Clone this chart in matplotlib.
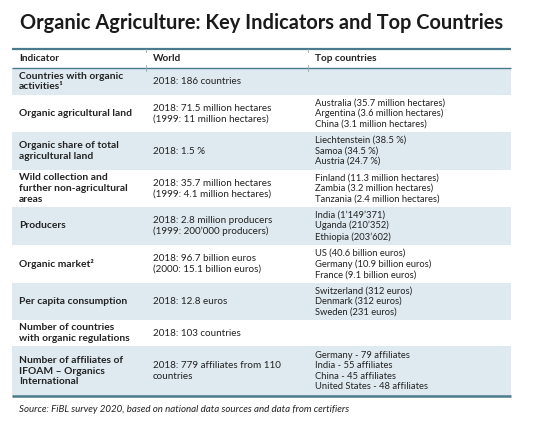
import matplotlib
matplotlib.use("Agg")
import matplotlib.pyplot as plt
from matplotlib.patches import Rectangle

title = "Organic Agriculture: Key Indicators and Top Countries"
headers = ["Indicator", "World", "Top countries"]
indicators = [
    "Countries with organic\nactivities¹",
    "Organic agricultural land",
    "Organic share of total\nagricultural land",
    "Wild collection and\nfurther non-agricultural\nareas",
    "Producers",
    "Organic market²",
    "Per capita consumption",
    "Number of countries\nwith organic regulations",
    "Number of affiliates of\nIFOAM – Organics\nInternational",
]
world = [
    "2018: 186 countries",
    "2018: 71.5 million hectares\n(1999: 11 million hectares)",
    "2018: 1.5 %",
    "2018: 35.7 million hectares\n(1999: 4.1 million hectares)",
    "2018: 2.8 million producers\n(1999: 200’000 producers)",
    "2018: 96.7 billion euros\n(2000: 15.1 billion euros)",
    "2018: 12.8 euros",
    "2018: 103 countries",
    "2018: 779 affiliates from 110\ncountries",
]
top_countries = [
    "",
    "Australia (35.7 million hectares)\nArgentina (3.6 million hectares)\nChina (3.1 million hectares)",
    "Liechtenstein (38.5 %)\nSamoa (34.5 %)\nAustria (24.7 %)",
    "Finland (11.3 million hectares)\nZambia (3.2 million hectares)\nTanzania (2.4 million hectares)",
    "India (1’149’371)\nUganda (210’352)\nEthiopia (203’602)",
    "US (40.6 billion euros)\nGermany (10.9 billion euros)\nFrance (9.1 billion euros)",
    "Switzerland (312 euros)\nDenmark (312 euros)\nSweden (231 euros)",
    "",
    "Germany - 79 affiliates\nIndia - 55 affiliates\nChina - 45 affiliates\nUnited States - 48 affiliates",
]
source = "Source: FiBL survey 2020, based on national data sources and data from certifiers"

# layout (pixel units)
W, H = 543, 426
left, right = 12, 511
top_line, header_bottom = 49, 68
row_edges = [68, 95, 132, 170, 207, 245, 283, 320, 346, 396]
col_x = [19, 153, 315]
col_sep = [146, 308]
shade = "#dfeaf0"
line_col = "#4a7a8d"
txt_col = "#222222"
FONT = "Lato"
fs_world = 7.1
fs_top = 6.75
fs_bold = 7.4
ls = 1.22

fig = plt.figure(figsize=(W / 100, H / 100), dpi=100)
ax = fig.add_axes([0, 0, 1, 1])
ax.set_xlim(0, W)
ax.set_ylim(H, 0)
ax.axis("off")

ax.text(20, 23, title, fontsize=14.4, fontweight="bold", family=FONT,
        color="#1a1a1a", va="center", ha="left")

for i in range(len(indicators)):
    y0, y1 = row_edges[i], row_edges[i + 1]
    if i % 2 == 0:
        ax.add_patch(Rectangle((left, y0), right - left, y1 - y0,
                               facecolor=shade, edgecolor="none", zorder=0))

ax.plot([left, right], [top_line, top_line], color=line_col, lw=1.6, solid_capstyle="butt")
ax.plot([left, right], [header_bottom, header_bottom], color=line_col, lw=1.0, solid_capstyle="butt")
ax.plot([left, right], [row_edges[-1], row_edges[-1]], color=line_col, lw=1.8, solid_capstyle="butt")
for cx in col_sep:
    ax.plot([cx, cx], [top_line, top_line + 3], color="#9aa9b0", lw=0.6)
    ax.plot([cx, cx], [header_bottom - 3, header_bottom + 3], color="#9aa9b0", lw=0.6)

hy = (top_line + header_bottom) / 2
for x, h in zip(col_x, headers):
    ax.text(x, hy, h, fontsize=fs_bold - 0.2, fontweight="bold", family=FONT,
            color=txt_col, va="center", ha="left")

for i in range(len(indicators)):
    yc = (row_edges[i] + row_edges[i + 1]) / 2
    ax.text(col_x[0], yc, indicators[i], fontsize=fs_bold, fontweight="bold",
            family=FONT, color=txt_col, va="center", ha="left", linespacing=ls)
    ax.text(col_x[1], yc, world[i], fontsize=fs_world, family=FONT, color=txt_col,
            va="center", ha="left", linespacing=ls)
    if top_countries[i]:
        ax.text(col_x[2], yc, top_countries[i], fontsize=fs_top, family=FONT,
                color=txt_col, va="center", ha="left", linespacing=ls)

ax.text(19, 410, source, fontsize=7.0, style="italic", family=FONT,
        color=txt_col, va="center", ha="left")

fig.savefig("out.png", dpi=100)
